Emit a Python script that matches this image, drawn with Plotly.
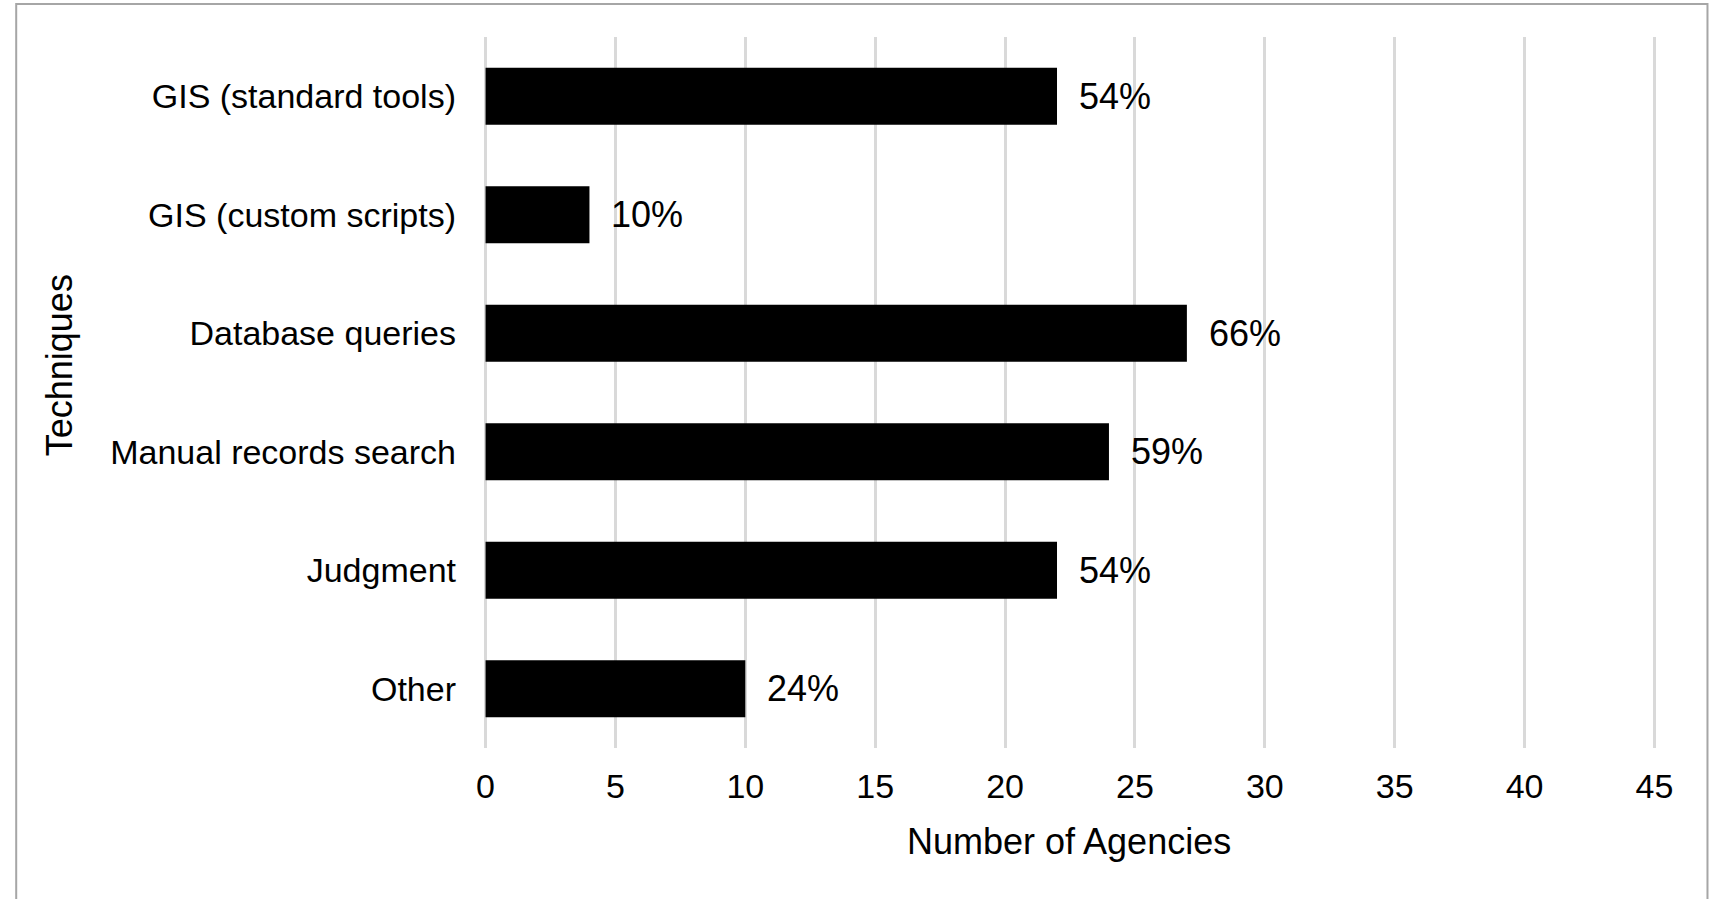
import plotly.graph_objects as go

categories = ["GIS (standard tools)", "GIS (custom scripts)", "Database queries",
              "Manual records search", "Judgment", "Other"]
agencies = [22, 4, 27, 24, 22, 10]
pct_labels = ["54%", "10%", "66%", "59%", "54%", "24%"]
x_ticks = [0, 5, 10, 15, 20, 25, 30, 35, 40, 45]

FONT = "Liberation Sans, Arial, sans-serif"
W, H = 1709, 899
X0PX, X45PX = 486, 1654
PAD = 0.06
K = (X45PX - X0PX) / 45.0
L = X0PX - PAD * K
R = W - (X45PX + PAD * K)
T, B = 37, 899 - 748
PW, PH = W - L - R, H - T - B

def px_x(px):
    return (px - L) / PW

def px_y(py):
    return (H - B - py) / PH

fig = go.Figure()
fig.add_trace(go.Bar(
    x=agencies, y=categories, orientation="h",
    marker=dict(color="#000000", line=dict(width=0)),
    showlegend=False, hoverinfo="x+y",
))

for c, v, t in zip(categories, agencies, pct_labels):
    fig.add_annotation(x=v, y=c, text=t, showarrow=False, xanchor="left",
                       yanchor="middle", xshift=20, yshift=0,
                       font=dict(family=FONT, size=36, color="#000000"))

fig.add_annotation(xref="paper", yref="paper", x=px_x(1069), y=px_y(841),
                   text="Number of Agencies", showarrow=False,
                   xanchor="center", yanchor="middle",
                   font=dict(family=FONT, size=36, color="#000000"))
fig.add_annotation(xref="paper", yref="paper", x=px_x(60), y=px_y(365),
                   text="Techniques", showarrow=False, textangle=-90,
                   xanchor="center", yanchor="middle",
                   font=dict(family=FONT, size=36, color="#000000"))

fig.add_shape(type="rect", xref="paper", yref="paper",
              x0=px_x(17), x1=px_x(1707), y0=px_y(4), y1=px_y(1000),
              line=dict(color="#a6a6a6", width=2), fillcolor="rgba(0,0,0,0)",
              layer="below")

fig.update_layout(
    width=W, height=H,
    margin=dict(l=L, r=R, t=T, b=B, pad=0),
    paper_bgcolor="white", plot_bgcolor="white",
    bargap=0.52,
    font=dict(family=FONT, size=34, color="#000000"),
    xaxis=dict(range=[-PAD, 45 + PAD], tickvals=x_ticks, showgrid=True,
               gridcolor="#d9d9d9", gridwidth=2.5, zeroline=False,
               showline=False, ticks="", ticklabelstandoff=15,
               tickfont=dict(family=FONT, size=34, color="#000000")),
    yaxis=dict(categoryorder="array", categoryarray=categories,
               autorange="reversed", showgrid=False, zeroline=False,
               showline=False, ticks="", ticklabelstandoff=27,
               tickfont=dict(family=FONT, size=34, color="#000000")),
)

fig.write_html("out.html")
